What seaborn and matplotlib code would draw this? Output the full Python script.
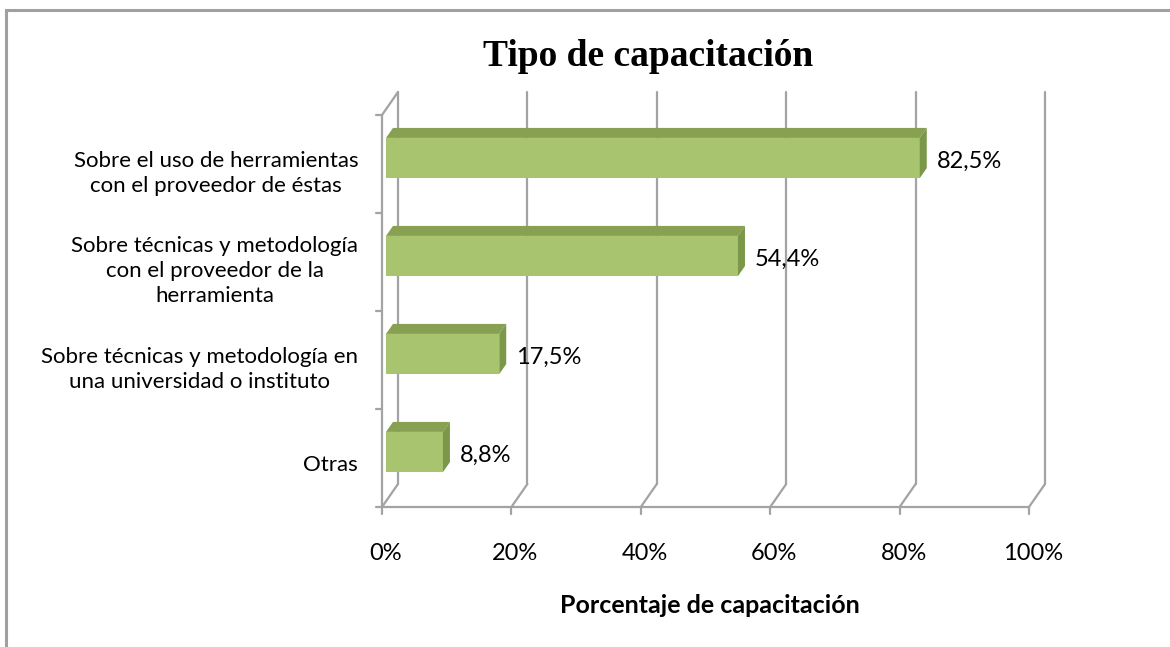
import matplotlib
matplotlib.use("Agg")
import matplotlib.pyplot as plt
from matplotlib.patches import Polygon, Rectangle
import seaborn as sns
import pandas as pd

categorias = ["Sobre el uso de herramientas\ncon el proveedor de éstas",
              "Sobre técnicas y metodología\ncon el proveedor de la\nherramienta",
              "Sobre técnicas y metodología en\nuna universidad o instituto",
              "Otras"]
porcentajes = [82.5, 54.4, 17.5, 8.8]
etiquetas = ["82,5%", "54,4%", "17,5%", "8,8%"]
ticks_x = [0, 20, 40, 60, 80, 100]
ticks_x_txt = ["0%", "20%", "40%", "60%", "80%", "100%"]

sns.set_style("white")
plt.rcParams["font.family"] = ["Lato", "DejaVu Sans"]
plt.rcParams["text.color"] = "black"
plt.rcParams["axes.labelcolor"] = "black"
plt.rcParams["xtick.color"] = "black"
plt.rcParams["ytick.color"] = "black"

W, H = 1170, 647
fig = plt.figure(figsize=(W / 100, H / 100), dpi=100)
ax = fig.add_axes([386 / W, (H - 501) / H, 647 / W, 392 / H])

df = pd.DataFrame({"tipo": categorias, "pct": porcentajes})
sns.barplot(data=df, x="pct", y="tipo", orient="h", color="#A9C46E",
            saturation=1, width=0.41, linewidth=0, ax=ax, zorder=3)
ax.set_xlim(0, 100)
ax.set_ylim(3.5, -0.5)

# pixel -> data units
ux = 100 / 647
uy = 4 / 392
gris = "#A3A3A3"

# desplazamientos del plano frontal y del fondo (efecto 3D)
fx, fy = -4 * ux, 6 * uy
bx, by = 12 * ux, -17 * uy

for v in ticks_x:
    ax.plot([v + bx, v + bx], [3.5 + by, -0.5 + by], color=gris, lw=1.6,
            zorder=1, clip_on=False)
    ax.plot([v + bx, v + fx], [3.5 + by, 3.5 + fy], color=gris, lw=1.6,
            zorder=1, clip_on=False)
    ax.plot([v + fx, v + fx], [3.5 + fy, 3.5 + fy + 7 * uy], color=gris,
            lw=1.6, zorder=1, clip_on=False)

# eje frontal
ax.plot([fx, 100 + fx], [3.5 + fy, 3.5 + fy], color=gris, lw=1.6, zorder=2, clip_on=False)
ax.plot([fx, fx], [-0.5 + fy, 3.5 + fy], color=gris, lw=1.6, zorder=2, clip_on=False)
ax.plot([fx, bx], [-0.5 + fy, -0.5 + by], color=gris, lw=1.6, zorder=2, clip_on=False)
for i in range(5):
    yy = i - 0.5 + fy
    ax.plot([fx - 6 * ux, fx], [yy, yy], color=gris, lw=1.6, zorder=2, clip_on=False)

# caras superior y lateral de las barras
ddx, ddy = 7 * ux, -10 * uy
for p, lab in zip(ax.patches, etiquetas):
    x0 = p.get_x()
    x1 = x0 + p.get_width()
    yt = p.get_y()
    yb = yt + p.get_height()
    top = Polygon([(x0, yt), (x0 + ddx, yt + ddy), (x1 + ddx, yt + ddy), (x1, yt)],
                  closed=True, fc="#87A052", ec="none", zorder=3, clip_on=False)
    side = Polygon([(x1, yt), (x1 + ddx, yt + ddy), (x1 + ddx, yb + ddy), (x1, yb)],
                   closed=True, fc="#7A974A", ec="none", zorder=3, clip_on=False)
    ax.add_patch(top)
    ax.add_patch(side)
    ax.annotate(lab, xy=(x1, (yt + yb) / 2), xytext=(12.2, -2.2),
                textcoords="offset points", ha="left", va="center",
                fontsize=17, color="black")

sns.despine(ax=ax, left=True, bottom=True)
ax.set_yticks([i + 0.11 for i in range(4)])
ax.set_yticklabels(categorias, fontsize=16, linespacing=1.3)
for t in ax.get_yticklabels():
    t.set_multialignment("center")
ax.set_xticks(ticks_x)
ax.set_xticklabels(ticks_x_txt, fontsize=17)
ax.tick_params(axis="y", length=0, pad=20)
ax.tick_params(axis="x", length=0, pad=30)
ax.set_ylabel("")
ax.set_xlabel("Porcentaje de capacitación", fontsize=18, fontweight="bold", labelpad=22)
ax.grid(False)

fig.text(648 / W, 1 - 57 / H, "Tipo de capacitación", ha="center", va="center",
         fontfamily="Liberation Serif", fontweight="bold", fontsize=27, color="black")

fig.add_artist(Rectangle((5.5 / W, -0.1), 1.2, 1.1 - 9.5 / H, transform=fig.transFigure,
                         fill=False, ec="#A0A0A0", lw=2.2))

fig.savefig("out.png", dpi=100)
